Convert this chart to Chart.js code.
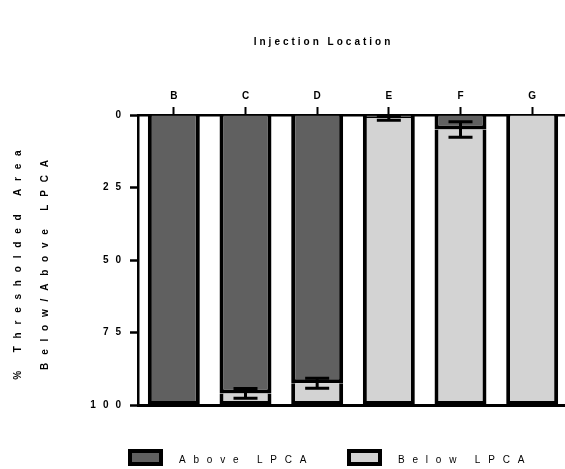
<!DOCTYPE html>
<html>
<head>
<meta charset="utf-8">
<script src="https://cdn.jsdelivr.net/npm/chart.js@4.4.1/dist/chart.umd.min.js"></script>
<style>
  html, body { margin: 0; padding: 0; background: #fff; overflow: hidden; }
  #wrap { position: relative; width: 568px; height: 469px; }
</style>
</head>
<body>
<div id="wrap"><canvas id="c" width="568" height="469"></canvas></div>
<script>
// Injection sites along the x axis
const categories = ['B', 'C', 'D', 'E', 'F', 'G'];
// Percent of thresholded area above / below the LPCA
const aboveLPCA = [100, 96, 92.5, 1, 5, 0];
const belowLPCA = [0, 4, 7.5, 99, 95, 100];
// Error (±) at the above/below boundary
const aboveError = [0, 1.7, 1.7, 0.8, 2.7, 0];
// Y axis tick values
const yTicks = [0, 25, 50, 75, 100];

const chartTitle = 'Injection Location';
const yTitleLines = ['% Thresholded Area', 'Below/Above LPCA'];

const FONT = '"Liberation Sans", Arial, sans-serif';
const spaced = (s, sep) => String(s).split('').join(sep);

// Draws text one glyph at a time with extra tracking
function drawTracked(ctx, text, x, y, tracking, align) {
  const chars = [...text];
  const widths = chars.map(ch => ctx.measureText(ch).width);
  const total = widths.reduce((a, b) => a + b, 0) + tracking * (chars.length - 1);
  let cx = align === 'center' ? x - total / 2 : x;
  ctx.textAlign = 'left';
  chars.forEach((ch, i) => { ctx.fillText(ch, cx, y); cx += widths[i] + tracking; });
}

const errorBars = {
  id: 'errorBars',
  afterDatasetsDraw(chart) {
    const { ctx } = chart;
    const y = chart.scales.y;
    chart.data.datasets.forEach((ds, di) => {
      if (!ds.errors) return;
      const meta = chart.getDatasetMeta(di);
      meta.data.forEach((bar, i) => {
        const e = ds.errors[i];
        if (!e) return;
        const v = ds.data[i];
        const y1 = y.getPixelForValue(v - e);
        const y2 = y.getPixelForValue(v + e);
        const half = 12;
        ctx.save();
        ctx.strokeStyle = '#000';
        ctx.lineWidth = 3;
        ctx.beginPath();
        ctx.moveTo(bar.x, y1); ctx.lineTo(bar.x, y2);
        ctx.moveTo(bar.x - half, y1); ctx.lineTo(bar.x + half, y1);
        ctx.moveTo(bar.x - half, y2); ctx.lineTo(bar.x + half, y2);
        ctx.stroke();
        ctx.restore();
      });
    });
  }
};

const sideTexts = {
  id: 'sideTexts',
  afterDraw(chart) {
    const { ctx } = chart;
    ctx.save();
    ctx.fillStyle = '#000';
    ctx.textBaseline = 'middle';
    ctx.font = 'bold 10px ' + FONT;
    // Chart title
    drawTracked(ctx, chartTitle, 322, 42, 3, 'center');
    // Y axis title, two rotated lines
    const xs = [18, 45];
    yTitleLines.forEach((line, i) => {
      ctx.save();
      ctx.translate(xs[i], 265);
      ctx.rotate(-Math.PI / 2);
      drawTracked(ctx, line, 0, 0, 7.8, 'center');
      ctx.restore();
    });
    // Legend
    ctx.font = '10px ' + FONT;
    const lx = [128, 347];
    chart.data.datasets.forEach((ds, i) => {
      const x = lx[i], top = 449, w = 35, h = 17, b = 4;
      ctx.fillStyle = '#000';
      ctx.fillRect(x, top, w, h);
      ctx.fillStyle = ds.backgroundColor;
      ctx.fillRect(x + b, top + b, w - 2 * b, h - 2 * b);
      ctx.fillStyle = '#000';
      drawTracked(ctx, ds.label, x + 51, top + h / 2 + 3, 7.8, 'left');
    });
    ctx.restore();
  }
};

new Chart(document.getElementById('c'), {
  type: 'bar',
  data: {
    labels: categories,
    datasets: [
      {
        label: 'Above LPCA',
        data: aboveLPCA,
        errors: aboveError,
        backgroundColor: '#606060',
        borderColor: '#000',
        borderWidth: 4,
        borderSkipped: 'start',
        barPercentage: 0.725,
        categoryPercentage: 1
      },
      {
        label: 'Below LPCA',
        data: belowLPCA,
        backgroundColor: '#d3d3d3',
        borderColor: '#000',
        borderWidth: 4,
        borderSkipped: 'start',
        barPercentage: 0.725,
        categoryPercentage: 1
      }
    ]
  },
  options: {
    responsive: false,
    devicePixelRatio: 1,
    animation: false,
    layout: { padding: { top: 0, left: 0, right: 0, bottom: 64 } },
    plugins: {
      legend: { display: false },
      tooltip: { enabled: false },
      title: { display: false }
    },
    scales: {
      x: {
        position: 'top',
        stacked: true,
        offset: true,
        grid: {
          drawOnChartArea: false, drawTicks: true, tickLength: 8,
          tickWidth: 2, tickColor: '#000', offset: false
        },
        border: { display: true, color: '#000', width: 2.5 },
        ticks: {
          color: '#000', padding: 5, maxRotation: 0,
          font: { family: FONT, size: 10, weight: 'bold' }
        },
        afterFit: s => { s.height = 115; }
      },
      x2: {
        type: 'category',
        position: 'bottom',
        grid: { display: false },
        ticks: { display: false },
        border: { display: true, color: '#000', width: 3 },
        afterFit: s => { s.height = 0; }
      },
      y: {
        stacked: true,
        reverse: true,
        min: 0,
        max: 100,
        afterBuildTicks: s => { s.ticks = yTicks.map(v => ({ value: v })); },
        grid: {
          drawOnChartArea: false, tickLength: 8, tickWidth: 2.5, tickColor: '#000'
        },
        border: { display: true, color: '#000', width: 2.5 },
        ticks: {
          color: '#000', padding: 9,
          font: { family: FONT, size: 10, weight: 'bold' },
          callback: v => spaced(v, '\u2002\u2009')
        },
        afterFit: s => { s.width = 138; }
      }
    }
  },
  plugins: [errorBars, sideTexts]
});
</script>
</body>
</html>
